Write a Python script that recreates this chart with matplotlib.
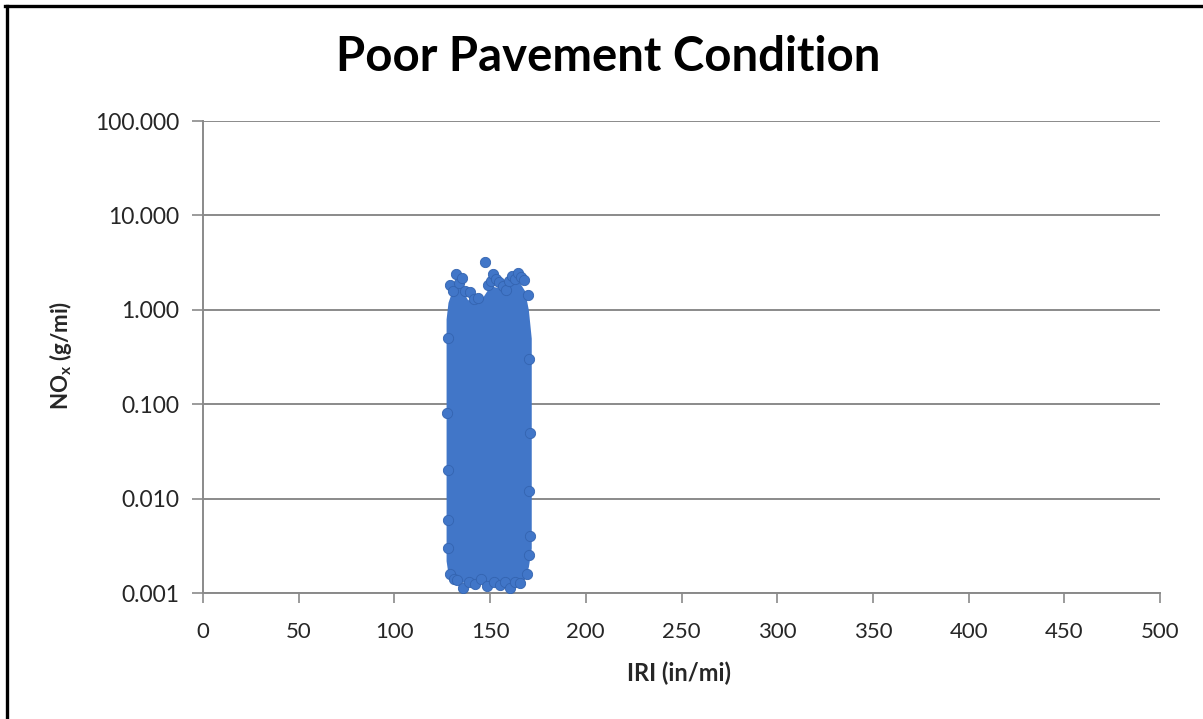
import matplotlib.pyplot as plt
from matplotlib.lines import Line2D
from matplotlib.ticker import FixedLocator, FuncFormatter, NullLocator

plt.rcParams['font.family'] = ['Lato', 'DejaVu Sans']
plt.rcParams['mathtext.fontset'] = 'custom'
plt.rcParams['mathtext.rm'] = 'Lato:bold'
plt.rcParams['mathtext.it'] = 'Lato:bold'
plt.rcParams['mathtext.bf'] = 'Lato:bold'

# dense part of the cloud: IRI vs lower / upper NOx envelope
body_iri = [127, 128, 131, 135, 138, 142, 146, 150, 155, 160, 165, 168, 170, 171.5]
body_low = [0.0022, 0.0016, 0.0014, 0.0013, 0.0013, 0.0013, 0.0013, 0.0013, 0.0013, 0.0013, 0.0013, 0.0014, 0.0019, 0.003]
body_high = [0.8, 1.2, 1.8, 1.7, 1.3, 1.15, 1.35, 1.8, 1.7, 1.9, 2.0, 1.6, 1.0, 0.5]

# individual points sticking out of the cloud (top edge)
top_iri = [129.0, 130.5, 132.2, 134.0, 135.3, 137.0, 139.5, 141.5, 143.7, 147.3, 148.9, 150.5,
           151.5, 153.0, 154.6, 156.5, 158.3, 160.0, 161.4, 163.0, 164.6, 166.0, 167.7, 169.8]
top_nox = [1.84, 1.6, 2.41, 1.9, 2.18, 1.6, 1.55, 1.3, 1.34, 3.22, 1.84, 2.0,
           2.41, 2.1, 1.98, 1.8, 1.63, 2.0, 2.29, 2.1, 2.47, 2.2, 2.08, 1.44]

# bottom edge
bot_iri = [129.0, 131.0, 132.7, 135.8, 139.0, 142.1, 145.0, 148.4, 152.0, 155.2, 158.0, 160.4, 163.0, 165.6, 169.3]
bot_nox = [0.0016, 0.0014, 0.00138, 0.00114, 0.0013, 0.00125, 0.0014, 0.0012, 0.0013, 0.00122, 0.0013, 0.00114, 0.0013, 0.00128, 0.0016]

# left / right edges
side_iri = [128.0, 127.6, 128.2, 127.8, 128.1, 170.2, 170.8, 170.4, 170.9, 170.3]
side_nox = [0.5, 0.08, 0.02, 0.006, 0.003, 0.3, 0.05, 0.012, 0.004, 0.0025]

x_ticks = [0, 50, 100, 150, 200, 250, 300, 350, 400, 450, 500]
y_ticks = [0.001, 0.01, 0.1, 1, 10, 100]

blue = '#4176C8'
edge_blue = '#3464B0'
grid_grey = '#8A8A8A'

fig = plt.figure(figsize=(12.03, 7.19), dpi=100)
ax = fig.add_axes([203 / 1203, 1 - 593 / 719, (1160 - 203) / 1203, (593 - 121) / 719])

ax.fill_between(body_iri, body_low, body_high, color=blue, lw=0, zorder=3)
ax.scatter(top_iri + bot_iri + side_iri, top_nox + bot_nox + side_nox,
           s=55, color=blue, edgecolors=edge_blue, linewidths=0.6, zorder=3)

ax.set_yscale('log')
ax.set_xlim(0, 500)
ax.set_ylim(0.001, 100)
ax.xaxis.set_major_locator(FixedLocator(x_ticks))
ax.yaxis.set_major_locator(FixedLocator(y_ticks))
ax.yaxis.set_minor_locator(NullLocator())
ax.yaxis.set_major_formatter(FuncFormatter(lambda v, p: f'{v:.3f}'))

ax.grid(axis='y', color=grid_grey, lw=1.4, zorder=1)
ax.set_axisbelow(True)
for s in ('top', 'right'):
    ax.spines[s].set_visible(False)
for s in ('left', 'bottom'):
    ax.spines[s].set_color(grid_grey)
    ax.spines[s].set_linewidth(1.4)
ax.tick_params(axis='y', direction='out', length=8, width=1.2, color=grid_grey,
               pad=9, labelsize=16.5, labelcolor='#262626')
ax.tick_params(axis='x', direction='out', length=7, width=1.2, color=grid_grey,
               pad=14, labelsize=16, labelcolor='#262626')

fig.text(608 / 1203, 1 - 57 / 719, 'Poor Pavement Condition', ha='center', va='center',
         fontsize=34, fontweight='bold', color='black')
fig.text(679 / 1203, 1 - 673 / 719, 'IRI (in/mi)', ha='center', va='center',
         fontsize=17, fontweight='bold', color='#262626')
fig.text(61 / 1203, 1 - 355 / 719, r'NO$_{\mathrm{x}}$ (g/mi)', ha='center', va='center',
         rotation=90, fontsize=16, fontweight='bold', color='#262626')

# outer chart frame (left and top edges visible in the crop)
fig.add_artist(Line2D([6.5 / 1203, 6.5 / 1203], [0, 1 - 5.5 / 719], color='black', lw=2.4))
fig.add_artist(Line2D([5.3 / 1203, 1], [1 - 5.5 / 719, 1 - 5.5 / 719], color='black', lw=2.4))

fig.savefig('out.png', dpi=100, facecolor='white')
